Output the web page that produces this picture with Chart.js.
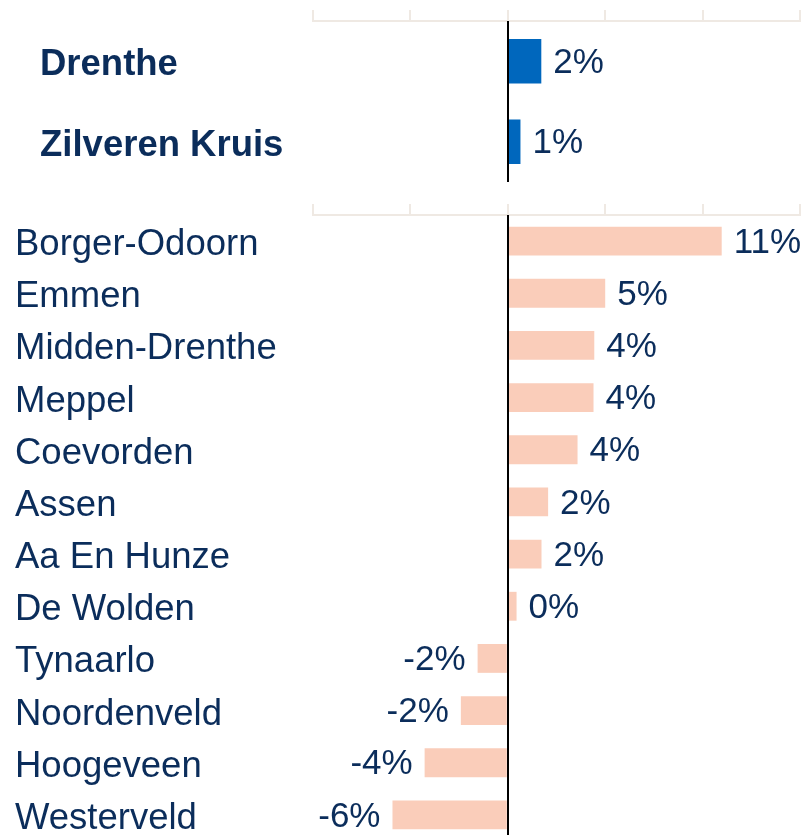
<!DOCTYPE html>
<html>
<head>
<meta charset="utf-8">
<script src="https://cdn.jsdelivr.net/npm/chart.js@4/dist/chart.umd.min.js"></script>
<style>
  html, body { margin: 0; padding: 0; background: #ffffff; overflow: hidden; width: 807px; height: 835px; }
  canvas { position: absolute; left: 0; }
  #top { top: 0; }
  #bottom { top: 194px; }
</style>
</head>
<body>
<canvas id="top" width="807" height="192"></canvas>
<canvas id="bottom" width="807" height="647"></canvas>
<script>
// ---- data ----
const summaryCategories = ["Drenthe", "Zilveren Kruis"];
const summaryValues = [1.72, 0.65];

const municipalityCategories = ["Borger-Odoorn", "Emmen", "Midden-Drenthe", "Meppel", "Coevorden", "Assen", "Aa En Hunze", "De Wolden", "Tynaarlo", "Noordenveld", "Hoogeveen", "Westerveld"];
const municipalityValues = [10.98, 5.0, 4.44, 4.40, 3.58, 2.07, 1.73, 0.45, -1.55, -2.41, -4.27, -5.92];

const axisMin = -10;
const axisMax = 15;
const axisStep = 5;

// ---- style ----
const NAVY = "#0b2d5b";
const BLUE = "#0067bd";
const SALMON = "#facdba";
const GRID = "#efe9e3";
const FONT = '"Liberation Sans", Arial, sans-serif';

const valueLabels = {
  id: "valueLabels",
  afterDatasetsDraw(chart) {
    const ctx = chart.ctx;
    const xs = chart.scales.x;
    const area = chart.chartArea;
    // zero line
    const zx = Math.round(xs.getPixelForValue(0));
    ctx.save();
    ctx.strokeStyle = "#000000";
    ctx.lineWidth = 2;
    ctx.beginPath();
    ctx.moveTo(zx, area.top);
    ctx.lineTo(zx, area.bottom);
    ctx.stroke();
    // labels
    const meta = chart.getDatasetMeta(0);
    const data = chart.data.datasets[0].data;
    ctx.font = "35px " + FONT;
    ctx.fillStyle = NAVY;
    ctx.textBaseline = "middle";
    meta.data.forEach((bar, i) => {
      const v = data[i];
      const text = Math.round(v) + "%";
      if (v >= 0) {
        ctx.textAlign = "left";
        ctx.fillText(text, bar.x + 12, bar.y + 2);
      } else {
        ctx.textAlign = "right";
        ctx.fillText(text, bar.x - 12, bar.y + 2);
      }
    });
    ctx.restore();
  }
};

function makeChart(id, labels, values, color, bold, padLeft, padBottom, padTop) {
  return new Chart(document.getElementById(id), {
    type: "bar",
    data: {
      labels: labels,
      datasets: [{
        data: values,
        backgroundColor: color,
        borderWidth: 0,
        barPercentage: 0.553,
        categoryPercentage: 1.0
      }]
    },
    options: {
      indexAxis: "y",
      responsive: false,
      animation: false,
      devicePixelRatio: 1,
      layout: { padding: { left: padLeft, right: 7, top: padTop, bottom: padBottom } },
      plugins: { legend: { display: false }, tooltip: { enabled: false } },
      scales: {
        x: {
          position: "top",
          min: axisMin,
          max: axisMax,
          ticks: { stepSize: axisStep, display: false },
          grid: {
            drawOnChartArea: false,
            drawTicks: true,
            tickLength: 11,
            tickColor: GRID,
            tickWidth: 2,
            color: GRID,
            lineWidth: 2
          },
          border: { display: true, color: GRID, width: 2 },
          afterFit(scale) { scale.paddingLeft = 0; scale.paddingRight = 0; }
        },
        y: {
          grid: { display: false },
          border: { display: false },
          ticks: {
            crossAlign: "far",
            labelOffset: 4,
            color: NAVY,
            font: { family: FONT, size: 36.5, weight: bold ? "bold" : "normal" }
          },
          afterFit(scale) {
            scale.width = 313 - padLeft;
            scale.paddingTop = 0;
            scale.paddingBottom = 0;
          }
        }
      }
    },
    plugins: [valueLabels]
  });
}

makeChart("top", summaryCategories, summaryValues, BLUE, true, 40, 10, 10);
makeChart("bottom", municipalityCategories, municipalityValues, SALMON, false, 15, 0, 10);
</script>
</body>
</html>
